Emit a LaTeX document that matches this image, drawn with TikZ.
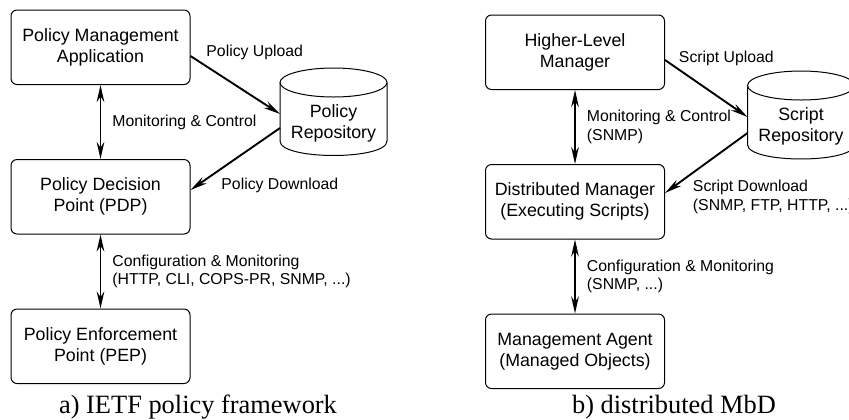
\documentclass[tikz,border=0pt]{standalone}
\usepackage{fontspec}
\setmainfont{Liberation Serif}
\setsansfont{Liberation Sans}
\usepackage{tikz}
\usetikzlibrary{positioning}
\usetikzlibrary{calc}
\usetikzlibrary{arrows.meta}
\tikzset{box/.style={draw, line width=0.5pt, rounded corners=3pt, minimum width=89.5pt, minimum height=37.25pt, align=center, font=\sffamily\fontsize{8.9}{10.5}\selectfont},
  lbl/.style={inner sep=0pt, align=left, font=\sffamily\fontsize{7.9}{9.3}\selectfont},
  cyl/.style={line width=0.5pt},
  arr/.style={line width=0.95pt, -{Stealth[length=8.5pt, width=3.8pt]}},
  darr/.style={line width=0.95pt, {Stealth[length=8.5pt, width=3.8pt]}-{Stealth[length=8.5pt, width=3.8pt]}},
  capt/.style={font=\fontsize{13.2}{15}\selectfont}}

\begin{document}
\begin{tikzpicture}[x=0.5pt, y=-0.5pt]
\useasboundingbox (0,0) rectangle (849,419);

% a) IETF policy framework
\node (pma) [box] at (100.5,47.25) {Policy Management\\Application};
\node (pdp) [box, below=37pt of pma] {Policy Decision\\Point (PDP)};
\node (pep) [box, below=37pt of pdp] {Policy Enforcement\\Point (PEP)};
\node (polrepo) [align=center, inner sep=0pt, font=\sffamily\fontsize{8.9}{10.5}\selectfont] at (333.5,123) {Policy\\Repository};
\draw[cyl] (280,82.5) -- (280,141) .. controls (280,160.3) and (387,160.3) .. (387,141) -- (387,82.5);
\draw[cyl] (333.5,82.5) ellipse [x radius=53.5, y radius=14.5];
\coordinate (prin) at ($(polrepo)+(-53.5,-9)$);
\coordinate (prout) at ($(polrepo)+(-53.5,5)$);

\draw[darr] (pma) -- node [lbl, right=5.5pt] {Monitoring \& Control} (pdp);
\draw[darr] (pdp) -- node [lbl, right=5.5pt] {Configuration \& Monitoring\\(HTTP, CLI, COPS-PR, SNMP, ...)} (pep);
\draw[arr] ($(pma.east)+(0,8.75)$) -- (prin) node [lbl, pos=0, anchor=west, xshift=7.5pt, yshift=2pt] {Policy Upload};
\draw[arr] (prout) -- ($(pdp.east)+(0,-6.75)$) node [lbl, pos=1, anchor=west, xshift=15pt, yshift=2.5pt] {Policy Download};

\node (capa) [capt] at (198,407) {a) IETF policy framework};

% b) distributed MbD
\node (hlm) [box] at (575,52.25) {Higher-Level\\Manager};
\node (dm) [box, below=37pt of hlm] {Distributed Manager\\(Executing Scripts)};
\node (ma) [box, below=37pt of dm] {Management Agent\\(Managed Objects)};
\node (scrrepo) [align=center, inner sep=0pt, font=\sffamily\fontsize{8.9}{10.5}\selectfont] at (801,126.5) {Script\\Repository};
\draw[cyl] (747.5,85.5) -- (747.5,144.5) .. controls (747.5,163.8) and (854.5,163.8) .. (854.5,144.5) -- (854.5,85.5);
\draw[cyl] (801,85.5) ellipse [x radius=53.5, y radius=14.5];
\coordinate (srin) at ($(scrrepo)+(-53.5,-9.5)$);
\coordinate (srout) at ($(scrrepo)+(-53.5,6.5)$);

\draw[darr] (hlm) -- node [lbl, right=5.5pt] {Monitoring \& Control\\(SNMP)} (dm);
\draw[darr] (dm) -- node [lbl, right=5.5pt] {Configuration \& Monitoring\\(SNMP, ...)} (ma);
\draw[arr] ($(hlm.east)+(0,7.75)$) -- (srin) node [lbl, pos=0, anchor=west, xshift=6.5pt, yshift=1pt] {Script Upload};
\draw[arr] (srout) -- ($(dm.east)+(0,-8.75)$) node [lbl, pos=1, anchor=west, xshift=13.5pt, yshift=-2pt] {Script Download\\(SNMP, FTP, HTTP, ...)};

\node (capb) [capt] at (674,407) {b) distributed MbD};
\end{tikzpicture}
\end{document}
